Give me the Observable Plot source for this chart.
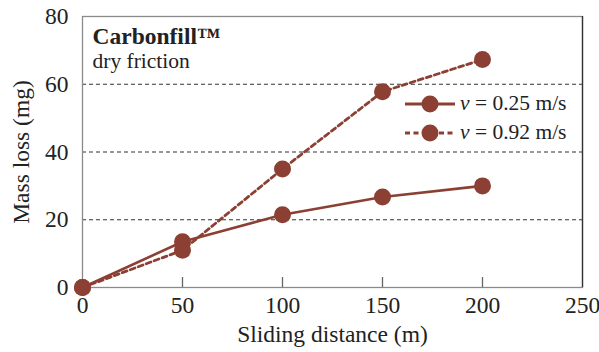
<!DOCTYPE html>
<html><head><meta charset="utf-8">
<script src="https://cdn.jsdelivr.net/npm/d3@7"></script>
<script src="https://cdn.jsdelivr.net/npm/@observablehq/plot@0.6"></script>
<style>
body{margin:0;background:#fff;}
#wrap{position:relative;width:599px;height:352px;font-family:"Liberation Serif",serif;}
#legend{position:absolute;left:404px;top:89px;font-size:21.5px;color:#222;}
#legend .row{display:flex;align-items:center;height:29px;}
#legend svg{margin-right:4px;}
</style></head>
<body><div id="wrap"><div id="legend"></div></div>
<script>
const distance = [0, 50, 100, 150, 200];
const loss025 = [0, 13.5, 21.5, 26.7, 30];
const loss092 = [0, 11, 35, 57.8, 67.3];
const seriesNames = ["v = 0.25 m/s", "v = 0.92 m/s"];
const xTicks = [0, 50, 100, 150, 200, 250];
const yTicks = [0, 20, 40, 60, 80];
const gridLevels = [20, 40, 60];
const color = "#8B4033";

const s1 = distance.map((d, i) => ({x: d, y: loss025[i]}));
const s2 = distance.map((d, i) => ({x: d, y: loss092[i]}));

const chart = Plot.plot({
  width: 599, height: 352,
  marginLeft: 82, marginRight: 17, marginTop: 16, marginBottom: 65,
  style: {fontFamily: "Liberation Serif, serif", fontSize: "23px", color: "#222", background: "#fff"},
  x: {domain: [0, 250], label: null},
  y: {domain: [0, 80], label: null},
  marks: [
    Plot.ruleY(gridLevels, {stroke: "#333", strokeDasharray: "4,3", strokeWidth: 1}),
    Plot.frame({stroke: "#8a8a8a", strokeWidth: 1.3}),
    Plot.ruleX([250], {stroke: "#333", strokeWidth: 1.3}),
    Plot.axisX([50, 100, 150, 200], {tickSize: -10, text: null, stroke: "#666", strokeWidth: 1.3}),
    Plot.axisX(xTicks, {tickSize: 0, tickPadding: 9, fontSize: 23.5, fill: "#222",
      label: "Sliding distance (m)", labelAnchor: "center", labelOffset: 54, labelArrow: "none"}),
    Plot.axisY(yTicks, {tickSize: 0, tickPadding: 14, fontSize: 23.5, fill: "#222",
      label: "Mass loss (mg)", labelAnchor: "center", labelOffset: 70, labelArrow: "none"}),
    Plot.line(s2, {x: "x", y: "y", stroke: color, strokeWidth: 2.8, strokeDasharray: "5,3.5"}),
    Plot.line(s1, {x: "x", y: "y", stroke: color, strokeWidth: 2.6}),
    Plot.dot(s2, {x: "x", y: "y", r: 8.5, fill: color}),
    Plot.dot(s1, {x: "x", y: "y", r: 8.5, fill: color}),
    Plot.text(["Carbonfill™"], {frameAnchor: "top-left", dx: 10, dy: 20, fontWeight: "bold", fontSize: 23.5, fill: "#222", lineAnchor: "middle"}),
    Plot.text(["dry friction"], {frameAnchor: "top-left", dx: 10, dy: 45, fontSize: 21.5, fill: "#222", lineAnchor: "middle"})
  ]
});
document.getElementById("wrap").prepend(chart);

const legend = document.getElementById("legend");
seriesNames.forEach((name, i) => {
  const row = document.createElement("div");
  row.className = "row";
  const dash = i === 1 ? ' stroke-dasharray="5,3.5"' : '';
  const parts = name.split(" = ");
  row.innerHTML = `<svg width="52" height="22"><line x1="1" x2="51" y1="11" y2="11" stroke="${color}" stroke-width="2.8"${dash}/><circle cx="26" cy="11" r="8.5" fill="${color}"/></svg><span><i>${parts[0]}</i> = ${parts[1]}</span>`;
  legend.appendChild(row);
});
</script>
</body></html>
